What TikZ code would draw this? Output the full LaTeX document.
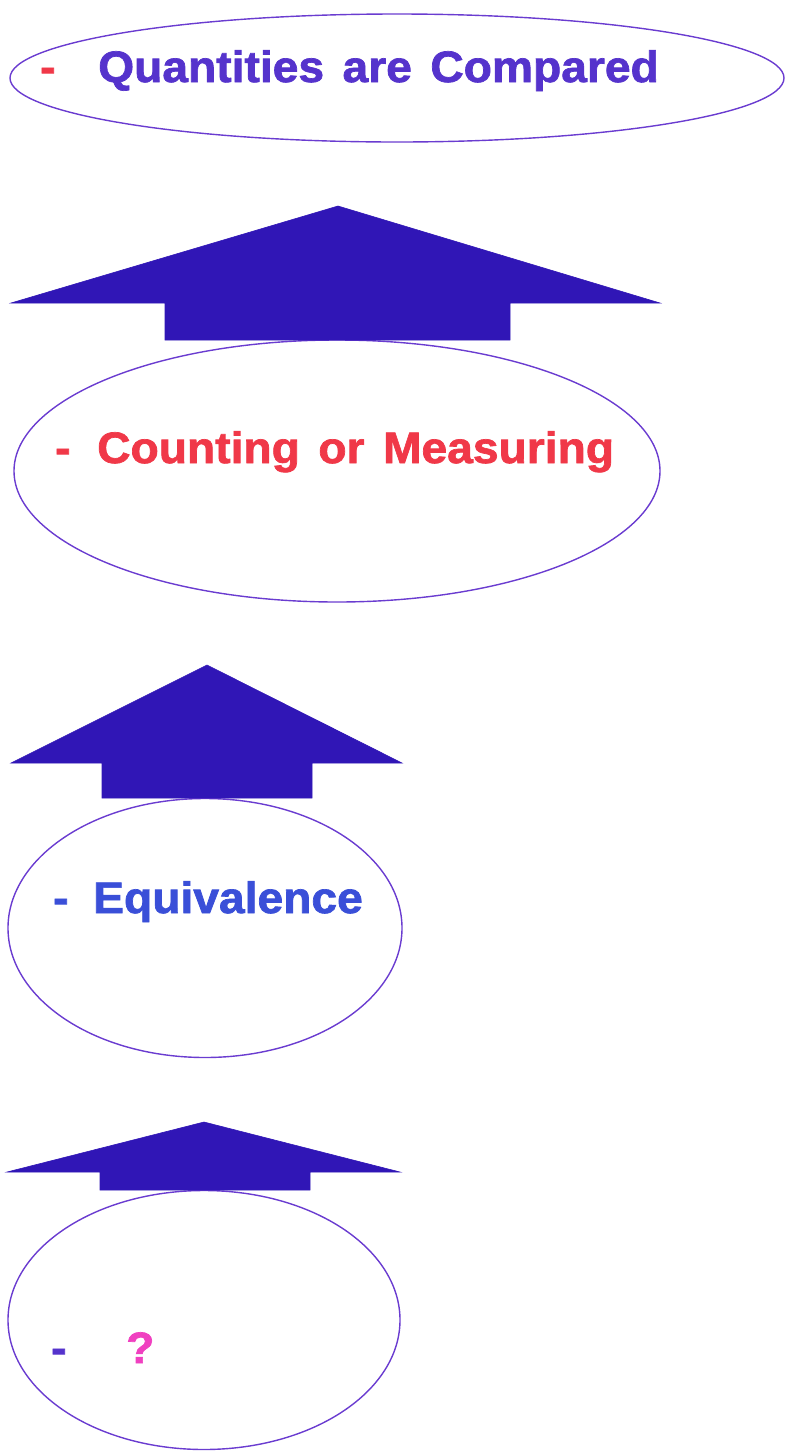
\documentclass[tikz,border=0pt]{standalone}
\usepackage{fontspec}
\setmainfont{Liberation Sans}
\newfontfamily\lblfont{Liberation Sans}[FakeStretch=1.05,FakeBold=1.6]
\newcommand\lblsetup{\lblfont\bfseries\fontsize{44}{48}\selectfont\spaceskip=0.42em plus 0.1em\relax}
\usetikzlibrary{shapes.geometric}
\definecolor{arrowblue}{HTML}{3016B6}
\definecolor{ringcol}{HTML}{6A3CD0}
\definecolor{purpletxt}{HTML}{5533CC}
\definecolor{redtxt}{HTML}{F03848}
\definecolor{bluetxt}{HTML}{3A4FD8}
\definecolor{magtxt}{HTML}{F040C0}
\tikzset{
  ring/.style={ellipse, draw=ringcol, line width=1.4pt, inner sep=0pt},
  bigarrow/.style={fill=arrowblue, draw=arrowblue, line width=0.6pt, line join=miter},
  lbl/.style={anchor=base west, inner sep=0pt, font=\lblsetup},
}
\begin{document}
\begin{tikzpicture}[x=1pt,y=-1pt]
\useasboundingbox (0,0) rectangle (785,1452);
% ellipses
\node[ring, minimum width=774pt, minimum height=128pt] (e1) at (397,78) {};
\node[ring, minimum width=646pt, minimum height=262pt] (e2) at (337,471) {};
\node[ring, minimum width=394pt, minimum height=259pt] (e3) at (205,928) {};
\node[ring, minimum width=392pt, minimum height=259pt] (e4) at (204,1320) {};
% arrows
\fill[bigarrow] (338,206) -- (660,303) -- (510,303) -- (510,340) -- (165,340) -- (165,303) -- (11,303) -- cycle;
\fill[bigarrow] (207,665) -- (402,763) -- (312,763) -- (312,798) -- (102,798) -- (102,763) -- (11,763) -- cycle;
\fill[bigarrow] (204,1122) -- (400,1172) -- (310,1172) -- (310,1190) -- (100,1190) -- (100,1172) -- (7,1172) -- cycle;
% labels
\node[lbl, text=redtxt] (d1) at (40,82) {-};
\node[lbl, text=purpletxt] (t1) at (98,82) {Quantities are Compared};
\node[lbl, text=redtxt] (d2) at (55,463) {-};
\node[lbl, text=redtxt] (t2) at (97,463) {Counting or Measuring};
\node[lbl, text=bluetxt] (d3) at (53,913) {-};
\node[lbl, text=bluetxt] (t3) at (93,913) {Equivalence};
\node[lbl, text=purpletxt] (d4) at (51,1363) {-};
\node[lbl, text=magtxt] (t4) at (126,1363) {?};
\end{tikzpicture}
\end{document}
